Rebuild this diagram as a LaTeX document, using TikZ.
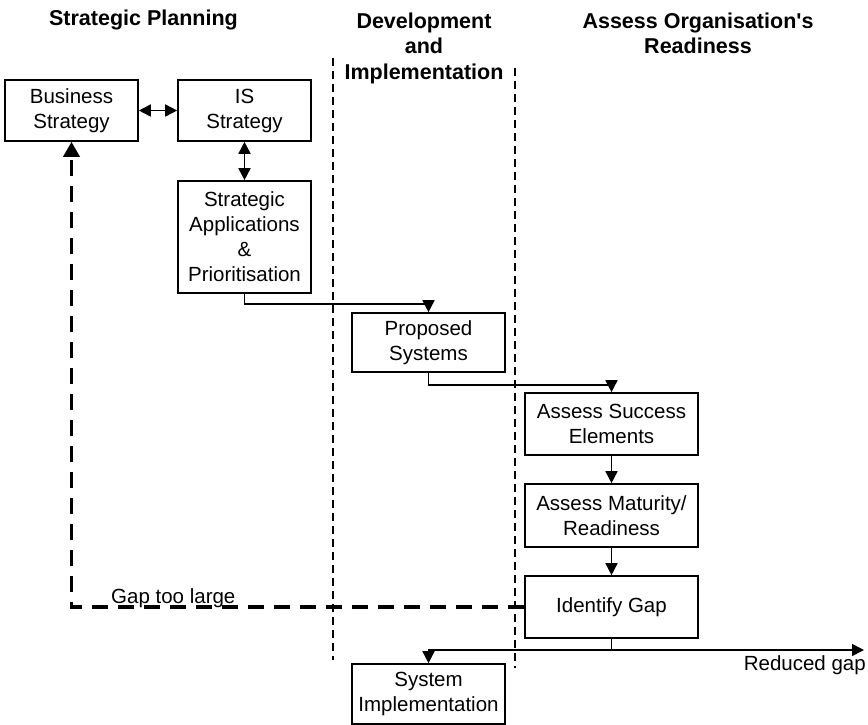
\documentclass[tikz,border=0pt]{standalone}
\usepackage{fontspec}
\setmainfont{Liberation Sans}
\usetikzlibrary{arrows.meta}
\begin{document}
\begin{tikzpicture}[x=1pt,y=-1pt,
  box/.style={draw,line width=1.6pt,align=center,inner sep=0pt,font=\fontsize{20.5}{25}\selectfont},
  header/.style={align=center,inner sep=0pt,anchor=north,font=\fontsize{21.5}{25.5}\selectfont\bfseries},
  conn/.style={line width=1.6pt},
  tip/.style={-{Triangle[length=12pt,width=12pt]}},
  dtip/.style={{Triangle[length=12pt,width=12pt]}-{Triangle[length=12pt,width=12pt]}},
  lane/.style={line width=1.3pt,dash pattern=on 8pt off 5pt},
  gap/.style={line width=3.5pt,dash pattern=on 16pt off 10pt,-{Triangle[length=15pt,width=16pt]}},
  lbl/.style={inner sep=0pt,font=\fontsize{20.5}{25}\selectfont}]
\useasboundingbox (0,0) rectangle (868,725);

% headers
\node[header] (h1) at (143.5,10) {Strategic Planning};
\node[header] (h2) at (424,12.5) {Development\\and\\Implementation};
\node[header] (h3) at (698,12.5) {Assess Organisation\textquotesingle s\\Readiness};

% lanes
\coordinate (l1t) at (333,58);
\coordinate (l1b) at (333,660);
\coordinate (l2t) at (515,68);
\coordinate (l2b) at (515,668);
\draw[lane] (l1t) -- (l1b);
\draw[lane] (l2t) -- (l2b);

% boxes
\node[box,minimum width=133pt,minimum height=61pt] (bs) at (71.5,110.5) {Business\\Strategy};
\node[box,minimum width=133pt,minimum height=61pt] (is) at (244.5,110.5) {IS\\Strategy};
\node[box,minimum width=133pt,minimum height=112pt] (sa) at (244.5,237) {Strategic\\Applications\\\&\\Prioritisation};
\node[box,minimum width=153pt,minimum height=59pt] (ps) at (428.5,342.5) {Proposed\\Systems};
\node[box,minimum width=173pt,minimum height=62pt] (ase) at (611.5,424) {Assess Success\\Elements};
\node[box,minimum width=173pt,minimum height=63pt] (amr) at (611.5,515.5) {Assess Maturity/\\Readiness};
\node[box,minimum width=173pt,minimum height=62pt] (ig) at (611.5,607) {Identify Gap};
\node[box,minimum width=153pt,minimum height=60pt] (si) at (428.5,694) {System\\Implementation};

% connectors
\draw[conn,dtip] (bs) -- (is);
\draw[conn,dtip] (is) -- (sa);
\draw[conn,tip] (sa.south) -- ++(0,10) -| (ps.north);
\draw[conn,tip] (ps.south) -- ++(0,12) -| (ase.north);
\draw[conn,tip] (ase) -- (amr);
\draw[conn,tip] (amr) -- (ig);
\coordinate (split) at (611.5,650);
\coordinate (rgend) at (864,650);
\draw[conn] (ig.south) -- (split);
\draw[conn,tip] (split) -- (rgend);
\draw[conn,tip] (split) -| (si.north);
\node[lbl,anchor=east] (rg) at (866,665) {Reduced gap};

% gap too large feedback
\draw[gap] (ig.west) -| (bs.south);
\node[lbl,anchor=base west] (gtl) at (111,603) {Gap too large};
\end{tikzpicture}
\end{document}
